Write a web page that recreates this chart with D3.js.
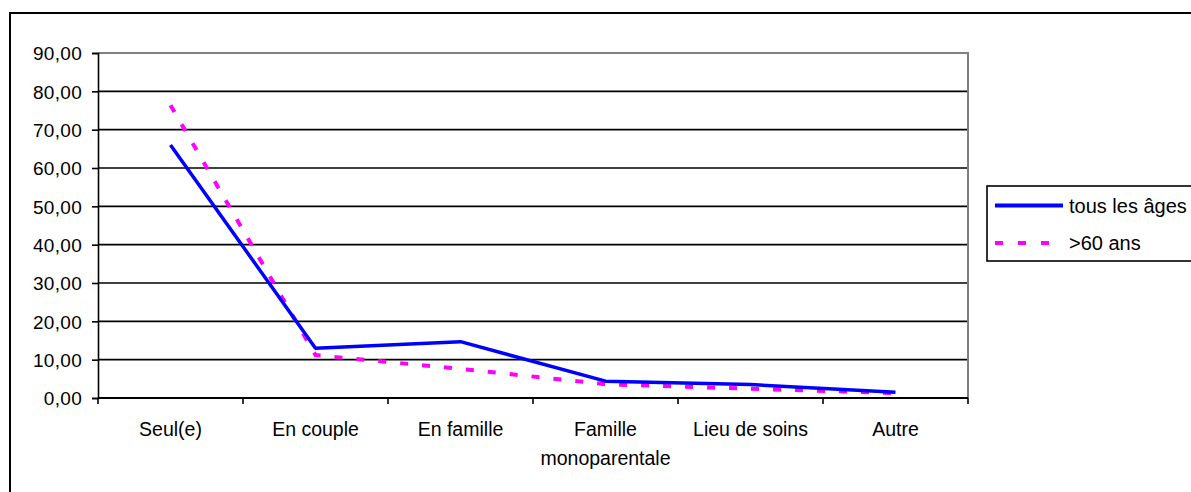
<!DOCTYPE html>
<html lang="fr">
<head>
<meta charset="utf-8">
<script src="https://d3js.org/d3.v7.min.js"></script>
<style>
  body { margin: 0; background: #fff; }
  text { font-family: "Liberation Sans", Arial, sans-serif; fill: #000; }
</style>
</head>
<body>
<div id="chart"></div>
<script>
// categories and series
var categories = ["Seul(e)", "En couple", "En famille", "Famille\nmonoparentale", "Lieu de soins", "Autre"];
var tousAges = [66.0, 13.0, 14.7, 4.4, 3.5, 1.5];
var plus60 = [76.4, 11.2, 7.6, 3.6, 2.4, 1.3];
var yTicks = [0, 10, 20, 30, 40, 50, 60, 70, 80, 90];
var seriesNames = ["tous les âges", ">60 ans"];

var width = 1191, height = 492;
var plot = { left: 98, right: 968, top: 53, bottom: 398 };

var svg = d3.select("#chart").append("svg")
    .attr("width", width)
    .attr("height", height);

// outer chart border
svg.append("rect")
    .attr("x", 10).attr("y", 13)
    .attr("width", 1200).attr("height", 500)
    .attr("fill", "none")
    .attr("stroke", "#000")
    .attr("stroke-width", 2);

var x = d3.scaleBand()
    .domain(categories)
    .range([plot.left, plot.right])
    .padding(0);

var y = d3.scaleLinear()
    .domain([0, 90])
    .range([plot.bottom, plot.top]);

// gridlines
svg.append("g")
    .selectAll("line")
    .data(yTicks.filter(d => d > 0 && d < 90))
    .join("line")
    .attr("x1", plot.left).attr("x2", plot.right)
    .attr("y1", d => y(d)).attr("y2", d => y(d))
    .attr("stroke", "#000")
    .attr("stroke-width", 1.6);

// plot area border (top + right, gray)
svg.append("path")
    .attr("d", `M${plot.left},${y(90)}H${plot.right}V${plot.bottom}`)
    .attr("fill", "none")
    .attr("stroke", "#808080")
    .attr("stroke-width", 2);

// y axis
var yAxis = svg.append("g")
    .attr("transform", `translate(${plot.left},0)`)
    .call(d3.axisLeft(y)
        .tickValues(yTicks)
        .tickSize(6)
        .tickPadding(10)
        .tickFormat(d => d3.format(".2f")(d).replace(".", ",")));
yAxis.select(".domain").attr("stroke", "#000").attr("stroke-width", 1.6);
yAxis.selectAll(".tick line").attr("stroke", "#000").attr("stroke-width", 1.6);
yAxis.selectAll(".tick text")
    .attr("font-size", "19px")
    .attr("letter-spacing", "0.3px")
    .attr("font-family", "Liberation Sans, Arial, sans-serif")
    .attr("dy", "0.36em");

// x axis: line + ticks at category boundaries
var xg = svg.append("g");
xg.append("line")
    .attr("x1", plot.left).attr("x2", plot.right)
    .attr("y1", y(0)).attr("y2", y(0))
    .attr("stroke", "#000").attr("stroke-width", 2);
var bounds = categories.map(c => x(c)).concat([x.range()[1]]);
xg.selectAll(".xt")
    .data(bounds)
    .join("line")
    .attr("class", "xt")
    .attr("x1", d => d).attr("x2", d => d)
    .attr("y1", y(0)).attr("y2", y(0) + 6)
    .attr("stroke", "#000").attr("stroke-width", 1.6);

// category labels
xg.selectAll(".xl")
    .data(categories)
    .join("text")
    .attr("class", "xl")
    .attr("text-anchor", "middle")
    .attr("font-size", "19.5px")
    .attr("y", 436)
    .each(function (d) {
        var t = d3.select(this);
        d.split("\n").forEach((part, i) => {
            t.append("tspan")
                .attr("x", x(d) + x.bandwidth() / 2)
                .attr("dy", i === 0 ? 0 : 29)
                .text(part);
        });
    });

// lines
var line = d3.line()
    .x((d, i) => x(categories[i]) + x.bandwidth() / 2)
    .y(d => y(d));

svg.append("path")
    .datum(plus60)
    .attr("d", line)
    .attr("fill", "none")
    .attr("stroke", "#ff00ff")
    .attr("stroke-width", 4)
    .attr("stroke-dasharray", "8,14");

svg.append("path")
    .datum(tousAges)
    .attr("d", line)
    .attr("fill", "none")
    .attr("stroke", "#0000ff")
    .attr("stroke-width", 3.5)
    .attr("stroke-linejoin", "round");

// legend
var legend = svg.append("g");
legend.append("rect")
    .attr("x", 987).attr("y", 186)
    .attr("width", 220).attr("height", 75)
    .attr("fill", "#fff")
    .attr("stroke", "#000")
    .attr("stroke-width", 1.6);

var legendRows = [
    { name: seriesNames[0], color: "#0000ff", dash: null, y: 205.5 },
    { name: seriesNames[1], color: "#ff00ff", dash: "8,15", y: 243 }
];
legendRows.forEach(r => {
    legend.append("line")
        .attr("x1", 995).attr("x2", 1063)
        .attr("y1", r.y).attr("y2", r.y)
        .attr("stroke", r.color)
        .attr("stroke-width", 4)
        .attr("stroke-dasharray", r.dash);
    legend.append("text")
        .attr("x", 1069).attr("y", r.y)
        .attr("dy", "0.36em")
        .attr("font-size", "20px")
        .text(r.name);
});
</script>
</body>
</html>
